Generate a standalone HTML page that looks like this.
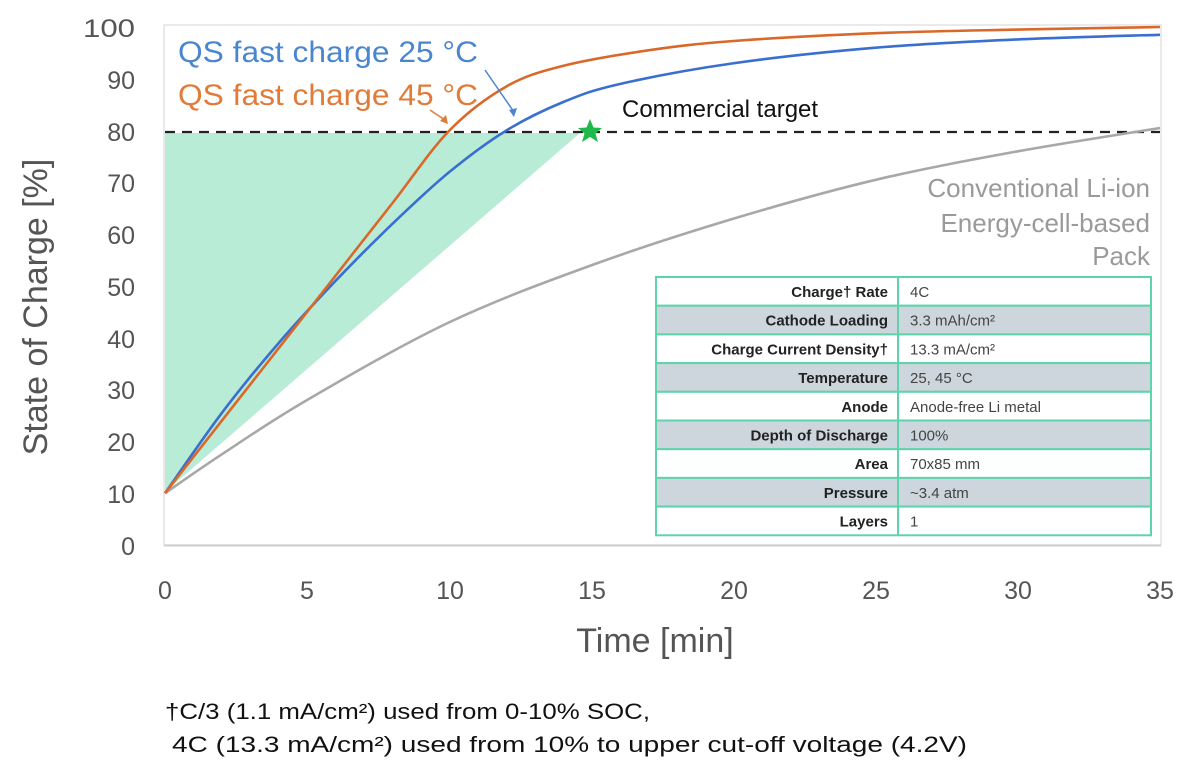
<!DOCTYPE html>
<html><head><meta charset="utf-8">
<style>
html,body{margin:0;padding:0;background:#fff;}
svg{display:block;font-family:"Liberation Sans",Arial,sans-serif;}
</style></head>
<body>
<svg id="s" width="1200" height="775" viewBox="0 0 1200 775" xmlns="http://www.w3.org/2000/svg">
<rect width="1200" height="775" fill="#fff"/>
<rect x="164" y="25" width="997" height="520" fill="none" stroke="#e4e4e4" stroke-width="1.5"/>
<line x1="164" y1="545.5" x2="1161" y2="545.5" stroke="#cfcfcf" stroke-width="2"/>
<polygon points="165,133 580,133 165,492" fill="#b8ecd6"/>
<g font-size="25" fill="#555" text-anchor="end">
<text x="135" y="37" textLength="52" lengthAdjust="spacingAndGlyphs">100</text><text x="135" y="89">90</text><text x="135" y="141">80</text>
<text x="135" y="192">70</text><text x="135" y="244">60</text><text x="135" y="296">50</text>
<text x="135" y="348">40</text><text x="135" y="399">30</text><text x="135" y="451">20</text>
<text x="135" y="503">10</text><text x="135" y="555">0</text>
</g>
<g font-size="25" fill="#555" text-anchor="middle">
<text x="165" y="599">0</text><text x="307" y="599">5</text><text x="450" y="599">10</text>
<text x="592" y="599">15</text><text x="734" y="599">20</text><text x="876" y="599">25</text>
<text x="1018" y="599">30</text><text x="1160" y="599">35</text>
</g>
<text x="655" y="652" font-size="34" fill="#555" text-anchor="middle">Time [min]</text>
<text transform="translate(47,307) rotate(-90)" font-size="34" fill="#555" text-anchor="middle">State of Charge [%]</text>
<line x1="165" y1="132" x2="1160" y2="132" stroke="#222" stroke-width="2.2" stroke-dasharray="10,7"/>
<g id="curves"></g>
<polygon points="590,119 593.5,127.5 602,128 595.5,133.5 598,142 590,137 582,142 584.5,133.5 578,128 586.5,127.5" fill="#1fb84a"/>
<text x="622" y="117" font-size="24" fill="#111">Commercial target</text>
<text x="178" y="62" font-size="30" fill="#4a86d0" textLength="300" lengthAdjust="spacingAndGlyphs">QS fast charge 25 °C</text>
<text x="178" y="105" font-size="30" fill="#e07b39" textLength="300" lengthAdjust="spacingAndGlyphs">QS fast charge 45 °C</text>
<line x1="485" y1="70" x2="514" y2="112" stroke="#4a86d0" stroke-width="1.5"/>
<polygon points="514,117 509,110 517,108" fill="#4a86d0"/>
<line x1="430" y1="110" x2="445" y2="120" stroke="#e07b39" stroke-width="1.5"/>
<polygon points="448,124 440,121 446,115" fill="#e07b39"/>
<g font-size="26" fill="#9a9a9a" text-anchor="end">
<text x="1150" y="197">Conventional Li-ion</text>
<text x="1150" y="232">Energy-cell-based</text>
<text x="1150" y="265">Pack</text>
</g>
<g id="tbl"></g>
<g font-size="22" fill="#111">
<text x="165" y="719" textLength="485" lengthAdjust="spacingAndGlyphs">†C/3 (1.1 mA/cm²) used from 0-10% SOC,</text>
<text x="172" y="752" textLength="795" lengthAdjust="spacingAndGlyphs">4C (13.3 mA/cm²) used from 10% to upper cut-off voltage (4.2V)</text>
</g>
</svg>
<script>
var NS="http://www.w3.org/2000/svg";
function X(t){return 165+t*28.43;} function Y(v){return 545-v*5.18;}
function path(pts){var p=pts.map(function(a){return [X(a[0]),Y(a[1])]});
var d="M"+p[0][0]+","+p[0][1];
for(var i=0;i<p.length-1;i++){var p0=p[i-1]||p[i],p1=p[i],p2=p[i+1],p3=p[i+2]||p2;
d+=" C"+(p1[0]+(p2[0]-p0[0])/6)+","+(p1[1]+(p2[1]-p0[1])/6)+" "+(p2[0]-(p3[0]-p1[0])/6)+","+(p2[1]-(p3[1]-p1[1])/6)+" "+p2[0]+","+p2[1];}
return d;}
var g=document.getElementById("curves");
function add(pts,c){var e=document.createElementNS(NS,"path");e.setAttribute("d",path(pts));e.setAttribute("fill","none");e.setAttribute("stroke",c);e.setAttribute("stroke-width","2.6");g.appendChild(e);}
add([[0,10],[2,17.5],[5,28],[10,43],[15,54],[20,63],[25,70.5],[30,76],[35,80.5]],"#a8a8a8");
add([[0,10],[2,25.5],[4,39],[6,51],[8,62],[10,72],[12,80],[14,85.5],[16,89],[20,93],[25,96],[30,97.6],[35,98.5]],"#3a6fd0");
add([[0,10],[3,31],[6,52],[8,66],[10,80],[12,88.5],[14,92.5],[17,95.5],[20,97.3],[25,98.8],[30,99.5],[35,100]],"#d8692a");
var rows=[["Charge† Rate","4C"],["Cathode Loading","3.3 mAh/cm²"],["Charge Current Density†","13.3 mA/cm²"],["Temperature","25, 45 °C"],["Anode","Anode-free Li metal"],["Depth of Discharge","100%"],["Area","70x85 mm"],["Pressure","~3.4 atm"],["Layers","1"]];
var t=document.getElementById("tbl"),x0=656,x1=1151,xm=898,y0=277,h=28.7;
rows.forEach(function(r,i){var y=y0+i*h;
var rc=document.createElementNS(NS,"rect");rc.setAttribute("x",x0);rc.setAttribute("y",y);rc.setAttribute("width",x1-x0);rc.setAttribute("height",h);
rc.setAttribute("fill",i%2?"#cdd6dc":"#fff");rc.setAttribute("stroke","#5fd3aa");rc.setAttribute("stroke-width","2");t.appendChild(rc);
var a=document.createElementNS(NS,"text");a.setAttribute("x",xm-10);a.setAttribute("y",y+20);a.setAttribute("font-size","15");a.setAttribute("font-weight","bold");a.setAttribute("text-anchor","end");a.setAttribute("fill","#222");a.textContent=r[0];t.appendChild(a);
var b=document.createElementNS(NS,"text");b.setAttribute("x",xm+12);b.setAttribute("y",y+20);b.setAttribute("font-size","15");b.setAttribute("fill","#444");b.textContent=r[1];t.appendChild(b);});
var l=document.createElementNS(NS,"line");l.setAttribute("x1",xm);l.setAttribute("x2",xm);l.setAttribute("y1",y0);l.setAttribute("y2",y0+9*h);l.setAttribute("stroke","#5fd3aa");l.setAttribute("stroke-width","2");t.appendChild(l);
</script>
</body></html>
